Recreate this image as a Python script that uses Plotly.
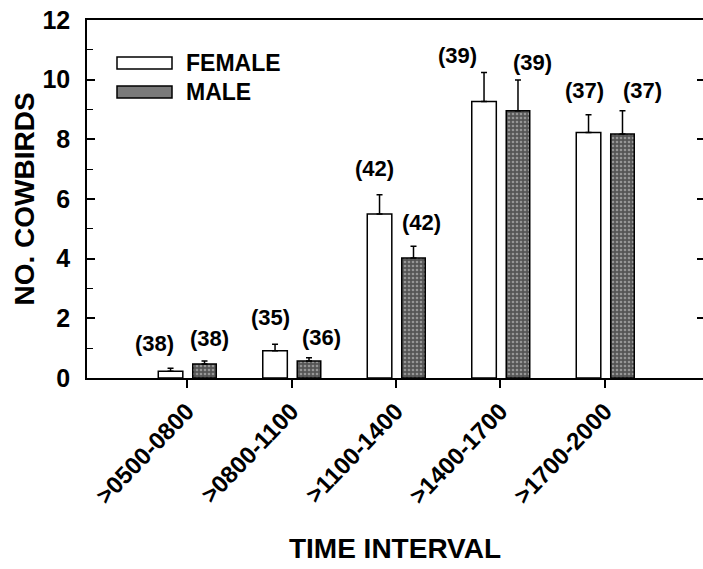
import plotly.graph_objects as go

# ---- data ----
categories = [">0500-0800", ">0800-1100", ">1100-1400", ">1400-1700", ">1700-2000"]
female_mean = [0.23, 0.91, 5.50, 9.27, 8.23]
female_se = [0.10, 0.22, 0.64, 0.97, 0.59]
male_mean = [0.47, 0.57, 4.02, 8.96, 8.18]
male_se = [0.10, 0.11, 0.40, 1.03, 0.78]
female_n = [38, 35, 42, 39, 37]
male_n = [38, 36, 42, 39, 37]
y_ticks = [0, 2, 4, 6, 8, 10, 12]

# ---- label placement (style) ----
female_lbl_y = [1.17, 2.04, 7.02, 10.80, 9.63]
male_lbl_y = [1.34, 1.37, 5.22, 10.57, 9.63]
female_lbl_dx = [-33, -21, -21, -43, -20]
male_lbl_dx = [22, 30, 26, 32, 38]

FONT = "Liberation Sans, Arial, sans-serif"
BOLD = lambda s: f"<b>{s}</b>"

fig = go.Figure()
fig.add_trace(go.Bar(
    x=categories, y=female_mean, name="FEMALE",
    offset=-0.275, width=0.235,
    marker=dict(color="white", line=dict(color="black", width=1.5)),
    error_y=dict(type="data", array=female_se, arrayminus=[0]*5, symmetric=False,
                 color="black", thickness=1.5, width=3),
    showlegend=False,
))
fig.add_trace(go.Bar(
    x=categories, y=male_mean, name="MALE",
    offset=0.055, width=0.225,
    marker=dict(color="#555555", line=dict(color="black", width=1.5),
                pattern=dict(shape=".", fillmode="overlay", fgcolor="#d8d8d8",
                             size=4, solidity=0.35)),
    error_y=dict(type="data", array=male_se, arrayminus=[0]*5, symmetric=False,
                 color="black", thickness=1.5, width=3),
    showlegend=False,
))
# invisible trace to anchor the right-hand tick axis
fig.add_trace(go.Scatter(x=[categories[0]], y=[0], yaxis="y2", mode="markers",
                         marker=dict(opacity=0), hoverinfo="skip", showlegend=False))

annotations = []
for i, c in enumerate(categories):
    annotations.append(dict(x=c, y=female_lbl_y[i], xref="x", yref="y",
                            text=BOLD(f"({female_n[i]})"), showarrow=False,
                            xshift=female_lbl_dx[i], font=dict(size=22, family=FONT, color="black")))
    annotations.append(dict(x=c, y=male_lbl_y[i], xref="x", yref="y",
                            text=BOLD(f"({male_n[i]})"), showarrow=False,
                            xshift=male_lbl_dx[i], font=dict(size=22, family=FONT, color="black")))

# legend (drawn manually to match the wide swatches); page pixel coords
W, H = 703, 569
PL, PT, PB = 87, 20, 378   # plot left / top / bottom on the page
pw, ph = float(W - PL), float(PB - PT)
def px(xp): return (xp - PL) / pw
def py(yp): return (PB - yp) / ph
shapes = [
    dict(type="rect", xref="paper", yref="paper", x0=px(117), x1=px(172), y0=py(69), y1=py(57),
         fillcolor="white", line=dict(color="black", width=1.5)),
    dict(type="rect", xref="paper", yref="paper", x0=px(117), x1=px(172), y0=py(98), y1=py(86),
         fillcolor="#7a7a7a", line=dict(color="black", width=1.5)),
]
annotations.append(dict(x=px(184), y=py(63), xref="paper", yref="paper",
                        xanchor="left", yanchor="middle",
                        text=BOLD("FEMALE"), showarrow=False,
                        font=dict(size=23, family=FONT, color="black")))
annotations.append(dict(x=px(184), y=py(92), xref="paper", yref="paper",
                        xanchor="left", yanchor="middle",
                        text=BOLD("MALE"), showarrow=False,
                        font=dict(size=23, family=FONT, color="black")))

fig.update_layout(
    width=W, height=H,
    margin=dict(l=PL, r=0, t=PT, b=H - PB),
    paper_bgcolor="white", plot_bgcolor="white",
    barmode="overlay",
    font=dict(family=FONT, color="black"),
    annotations=annotations, shapes=shapes,
    xaxis=dict(
        type="category", range=[-0.957, 4.938],
        showline=True, linecolor="black", linewidth=1.5, mirror=True,
        ticks="outside", ticklen=8, tickwidth=1.5, tickcolor="black",
        tickangle=-46, tickfont=dict(size=24, family=FONT, color="black"),
        ticktext=[BOLD(c) for c in categories], tickvals=categories,
        showgrid=False, zeroline=False,
        title=dict(text=BOLD("TIME INTERVAL"), font=dict(size=28, family=FONT, color="black"), standoff=30),
        automargin=False,
    ),
    yaxis=dict(
        range=[0, 12], tickvals=y_ticks, ticktext=[BOLD(str(v)) for v in y_ticks],
        showline=True, linecolor="black", linewidth=1.5, mirror=False,
        ticks="inside", ticklen=8, tickwidth=1.5, tickcolor="black",
        minor=dict(dtick=1, ticks="inside", ticklen=6, tickwidth=1.2, tickcolor="black"),
        tickfont=dict(size=25, family=FONT, color="black"),
        ticklabelstandoff=10, ticklabeloverflow="allow",
        showgrid=False, zeroline=False,
        title=dict(text=BOLD("NO. COWBIRDS"), font=dict(size=28, family=FONT, color="black"), standoff=0),
        automargin=False,
    ),
    yaxis2=dict(
        overlaying="y", side="right", matches="y", range=[0, 12],
        tickvals=y_ticks, showticklabels=False, showline=False,
        ticks="inside", ticklen=6, tickwidth=1.5, tickcolor="black",
        showgrid=False, zeroline=False,
    ),
)

# remove the default 8px page margin so the figure fills the window exactly
fig.write_html("out.html", config={"displayModeBar": False},
               post_script="document.body.style.margin='0';document.body.style.overflow='hidden';")
